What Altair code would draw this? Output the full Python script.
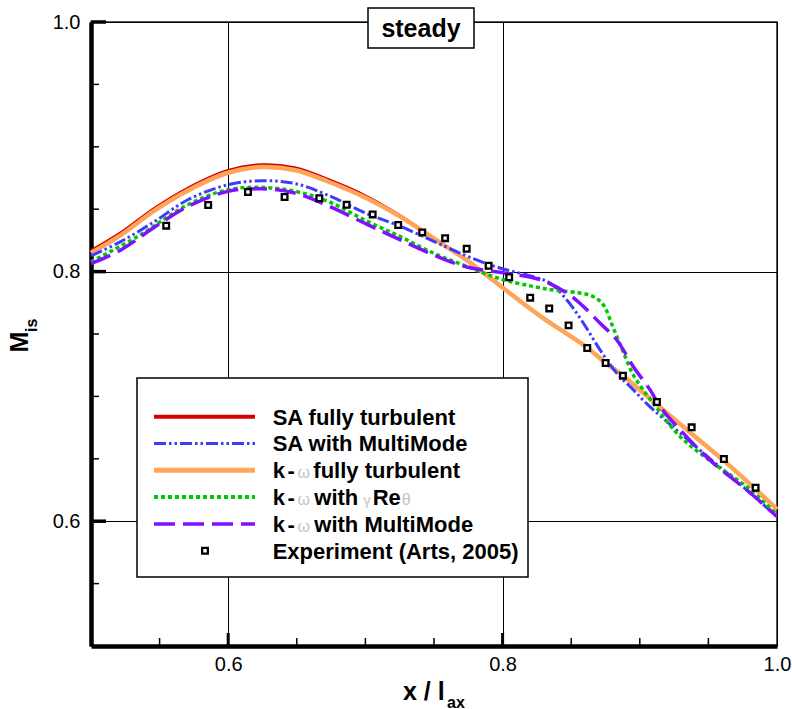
import altair as alt
import pandas as pd

# ---------------- data ----------------
sa_ft_x = [0.5, 0.522, 0.5464, 0.5706, 0.5998, 0.6241, 0.6484, 0.6727, 0.7009, 0.7251, 0.7494,
           0.7738, 0.7883, 0.8004, 0.8272, 0.8617, 0.8751, 0.8877, 0.905, 0.9389, 0.9633, 0.9899, 1.0]
sa_ft_y = [0.8168, 0.8313, 0.8508, 0.8668, 0.881, 0.8856, 0.8832, 0.8738, 0.8602, 0.845, 0.8272,
           0.8092, 0.7972, 0.7868, 0.7645, 0.739, 0.7268, 0.7166, 0.7005, 0.669, 0.6465, 0.62, 0.6095]

kw_ft_x = [0.5, 0.522, 0.5464, 0.5706, 0.5998, 0.6241, 0.6484, 0.6727, 0.7009, 0.7251, 0.7494,
           0.7738, 0.7883, 0.8004, 0.8272, 0.8617, 0.8751, 0.8877, 0.905, 0.9389, 0.9633, 0.9899, 1.0]
kw_ft_y = [0.815, 0.8295, 0.849, 0.865, 0.8792, 0.8838, 0.8814, 0.8722, 0.8588, 0.8442, 0.8268,
           0.8092, 0.7972, 0.7868, 0.7645, 0.739, 0.7268, 0.7166, 0.7005, 0.669, 0.6465, 0.62, 0.6095]

sa_mm_x = [0.5, 0.522, 0.5464, 0.5706, 0.5998, 0.6241, 0.6484, 0.6727, 0.7009, 0.7239, 0.7494,
           0.7738, 0.798, 0.8223, 0.8345, 0.8467, 0.8588, 0.8709, 0.8831, 0.8952, 0.905, 0.9293,
           0.9535, 0.9778, 1.0]
sa_mm_y = [0.8127, 0.8242, 0.8402, 0.8576, 0.8696, 0.8728, 0.8706, 0.8612, 0.8465, 0.837, 0.8245,
           0.8125, 0.8029, 0.7959, 0.7909, 0.7775, 0.7588, 0.7375, 0.7187, 0.7054, 0.6942, 0.6707,
           0.6479, 0.6252, 0.6035]

kw_gr_x = [0.5, 0.5342, 0.5706, 0.5998, 0.6241, 0.6484, 0.6727, 0.7009, 0.7251, 0.7494, 0.7738,
           0.798, 0.8223, 0.8394, 0.8563, 0.866, 0.8733, 0.8806, 0.8879, 0.8952, 0.905, 0.9122,
           0.9293, 0.9535, 0.9778, 1.0]
kw_gr_y = [0.8079, 0.8282, 0.8536, 0.8656, 0.8675, 0.8644, 0.8563, 0.8405, 0.8282, 0.8149, 0.8042,
           0.7943, 0.7881, 0.7849, 0.7829, 0.7801, 0.7735, 0.755, 0.7358, 0.7174, 0.7014, 0.691,
           0.6679, 0.6466, 0.6277, 0.6052]

kw_mm_x = [0.5, 0.522, 0.5464, 0.5706, 0.5998, 0.6241, 0.6484, 0.6727, 0.7009, 0.7251, 0.7494,
           0.7738, 0.798, 0.8272, 0.8467, 0.8588, 0.8709, 0.8831, 0.8952, 0.9074, 0.9147, 0.9293,
           0.9535, 0.9778, 1.0]
kw_mm_y = [0.8063, 0.8175, 0.8357, 0.8522, 0.8643, 0.8664, 0.863, 0.8528, 0.838, 0.8256, 0.8135,
           0.8037, 0.7995, 0.7935, 0.7829, 0.7721, 0.7588, 0.7454, 0.724, 0.7054, 0.692, 0.6733,
           0.6466, 0.6252, 0.6038]

exp_x = [0.5548, 0.5854, 0.6144, 0.6411, 0.6664, 0.6863, 0.7053, 0.7239, 0.7414, 0.7581, 0.7738,
         0.7898, 0.8048, 0.8201, 0.834, 0.8481, 0.8617, 0.8751, 0.8877, 0.9125, 0.9378, 0.9613, 0.9844]
exp_y = [0.8368, 0.8534, 0.8638, 0.8598, 0.8588, 0.8536, 0.8458, 0.8373, 0.8314, 0.8268, 0.8183,
         0.8047, 0.7955, 0.7791, 0.7705, 0.7569, 0.7388, 0.7268, 0.7166, 0.6955, 0.6752, 0.6498, 0.6268]

x_minor = [0.55, 0.65, 0.7, 0.75, 0.85, 0.9, 0.95]
x_major = [0.6, 0.8]
y_minor = [0.55, 0.65, 0.7, 0.75, 0.85, 0.9, 0.95]
y_major = [0.6, 0.8, 1.0]
tick_labels = [0.6, 0.8, 1.0]

legend_labels = ["SA fully turbulent", "SA with MultiMode", "k-ω fully turbulent",
                 "k-ω with γReθ", "k-ω with MultiMode", "Experiment (Arts, 2005)"]

# ---------------- styling ----------------
W, H = 686, 624
FONT = "Liberation Sans"
xs = alt.Scale(domain=[0.5, 1.0], nice=False, zero=False)
ys = alt.Scale(domain=[0.5, 1.0], nice=False, zero=False)
xaxis = alt.Axis(values=tick_labels, format=".1f", grid=True, gridColor="black", gridWidth=1,
                 ticks=False, tickSize=0, domainColor="black", domainWidth=4.5,
                 labelFont=FONT, labelFontSize=20, labelColor="black", labelPadding=8,
                 labelFlush=False, labelOverlap=False, title=None)
yaxis = alt.Axis(values=tick_labels, format=".1f", grid=True, gridColor="black", gridWidth=1,
                 ticks=False, tickSize=0, domainColor="black", domainWidth=4.5,
                 labelFont=FONT, labelFontSize=20, labelColor="black", labelPadding=11,
                 labelFlush=False, labelOverlap=False, title=None)

dummy = pd.DataFrame({"d": [0]})


def curve(xv, yv, color, width, dash=None):
    df = pd.DataFrame({"x": xv, "y": yv})
    kw = dict(color=color, strokeWidth=width, interpolate="catmull-rom")
    if dash:
        kw["strokeDash"] = dash
    return alt.Chart(df).mark_line(**kw).encode(
        x=alt.X("x:Q", scale=xs, axis=xaxis), y=alt.Y("y:Q", scale=ys, axis=yaxis))


def xticks(vals, length, width):
    df = pd.DataFrame({"v": vals})
    return alt.Chart(df).mark_rule(color="black", strokeWidth=width).encode(
        x=alt.X("v:Q", scale=xs, axis=xaxis), y=alt.value(H), y2=alt.value(H - length))


def yticks(vals, length, width):
    df = pd.DataFrame({"v": vals})
    return alt.Chart(df).mark_rule(color="black", strokeWidth=width).encode(
        y=alt.Y("v:Q", scale=ys, axis=yaxis), x=alt.value(0), x2=alt.value(length))


def txt(s, x, y, size=22, bold=True, color="black", align="left", baseline="alphabetic", angle=0):
    kw = dict(text=s, fontSize=size, font=FONT, fontWeight="bold" if bold else "normal",
              color=color, align=align, baseline=baseline)
    if angle:
        kw["angle"] = angle
    return alt.Chart(dummy).mark_text(**kw).encode(x=alt.value(x), y=alt.value(y))


RED, BLUE, ORANGE, GREEN, PURPLE = "#d40000", "#3c3cff", "#ffa55a", "#00c800", "#8010ff"
DASH_BLUE = [12, 3, 2.5, 3, 2.5, 3]
DASH_GREEN = [4, 3]
DASH_PURPLE = [21, 8]

layers = [
    xticks(x_minor, 8, 1.5), xticks(x_major, 13, 3),
    yticks(y_minor, 8, 1.5), yticks(y_major, 15, 3.5),
    curve(sa_ft_x, sa_ft_y, RED, 3),
    curve(kw_ft_x, kw_ft_y, ORANGE, 4.5),
    curve(sa_mm_x, sa_mm_y, BLUE, 3, DASH_BLUE),
    curve(kw_gr_x, kw_gr_y, GREEN, 3.5, DASH_GREEN),
    curve(kw_mm_x, kw_mm_y, PURPLE, 3.5, DASH_PURPLE),
    alt.Chart(pd.DataFrame({"x": exp_x, "y": exp_y})).mark_point(
        shape="square", size=32, filled=True, fill="white", stroke="black",
        strokeWidth=2.3, opacity=1).encode(
        x=alt.X("x:Q", scale=xs, axis=xaxis), y=alt.Y("y:Q", scale=ys, axis=yaxis)),
]

# title box
layers.append(alt.Chart(dummy).mark_rect(fill="white", stroke="black", strokeWidth=1.5).encode(
    x=alt.value(277), x2=alt.value(383), y=alt.value(-14), y2=alt.value(26)))
layers.append(txt("steady", 330, 14.7, size=25, align="center"))

# legend box
layers.append(alt.Chart(dummy).mark_rect(fill="white", stroke="black", strokeWidth=1.5).encode(
    x=alt.value(46), x2=alt.value(437), y=alt.value(356), y2=alt.value(555)))

row_y = [394.7 + i * 26.8 for i in range(6)]
styles = [(RED, 4, None), (BLUE, 3, DASH_BLUE), (ORANGE, 5, None),
          (GREEN, 4, DASH_GREEN), (PURPLE, 3.5, DASH_PURPLE)]
for i, (c, w, d) in enumerate(styles):
    kw = dict(color=c, strokeWidth=w)
    if d:
        kw["strokeDash"] = d
    layers.append(alt.Chart(dummy).mark_rule(**kw).encode(
        x=alt.value(63), x2=alt.value(164), y=alt.value(row_y[i])))
layers.append(alt.Chart(dummy).mark_point(
    shape="square", size=32, filled=True, fill="white", stroke="black",
    strokeWidth=2.3, opacity=1).encode(x=alt.value(114), y=alt.value(row_y[5])))

TX = 181.7
BO = 7.8
GRAY = "#c4c4c4"
layers.append(txt(legend_labels[0], TX, row_y[0] + BO))
layers.append(txt(legend_labels[1], TX, row_y[1] + BO))
for r in (2, 3, 4):
    layers.append(txt("k", TX, row_y[r] + BO))
    layers.append(txt("-", 196.5, row_y[r] + BO))
    layers.append(txt("ω", 206.5, row_y[r] + BO, size=16, bold=False, color=GRAY))
# k-ω fully turbulent
layers.append(txt("fully turbulent", 222.3, row_y[2] + BO))
# k-ω with γReθ
layers.append(txt("with", 223.3, row_y[3] + BO))
layers.append(txt("γ", 272.3, row_y[3] + BO, size=15, bold=False, color=GRAY))
layers.append(txt("Re", 281.7, row_y[3] + BO))
layers.append(txt("θ", 310.7, row_y[3] + BO, size=16, bold=False, color=GRAY))
# k-ω with MultiMode
layers.append(txt("with MultiMode", 223.3, row_y[4] + BO))
layers.append(txt(legend_labels[5], TX, row_y[5] + BO))

# axis titles
layers.append(txt("M", -63, 320, size=25, align="center", angle=270))
layers.append(txt("is", -54, 310, size=16, angle=270))
layers.append(txt("x / l", 312, 678, size=25))
layers.append(txt("ax", 356, 685.5, size=16))

chart = alt.layer(*layers).properties(
    width=W, height=H,
    autosize=alt.AutoSizeParams(type="none"),
    padding={"left": 91, "top": 22, "right": 15, "bottom": 63},
    background="white",
).configure_view(stroke="#222222", strokeWidth=1.5)

chart.save("out.html", embed_options={"renderer": "svg", "actions": False})
